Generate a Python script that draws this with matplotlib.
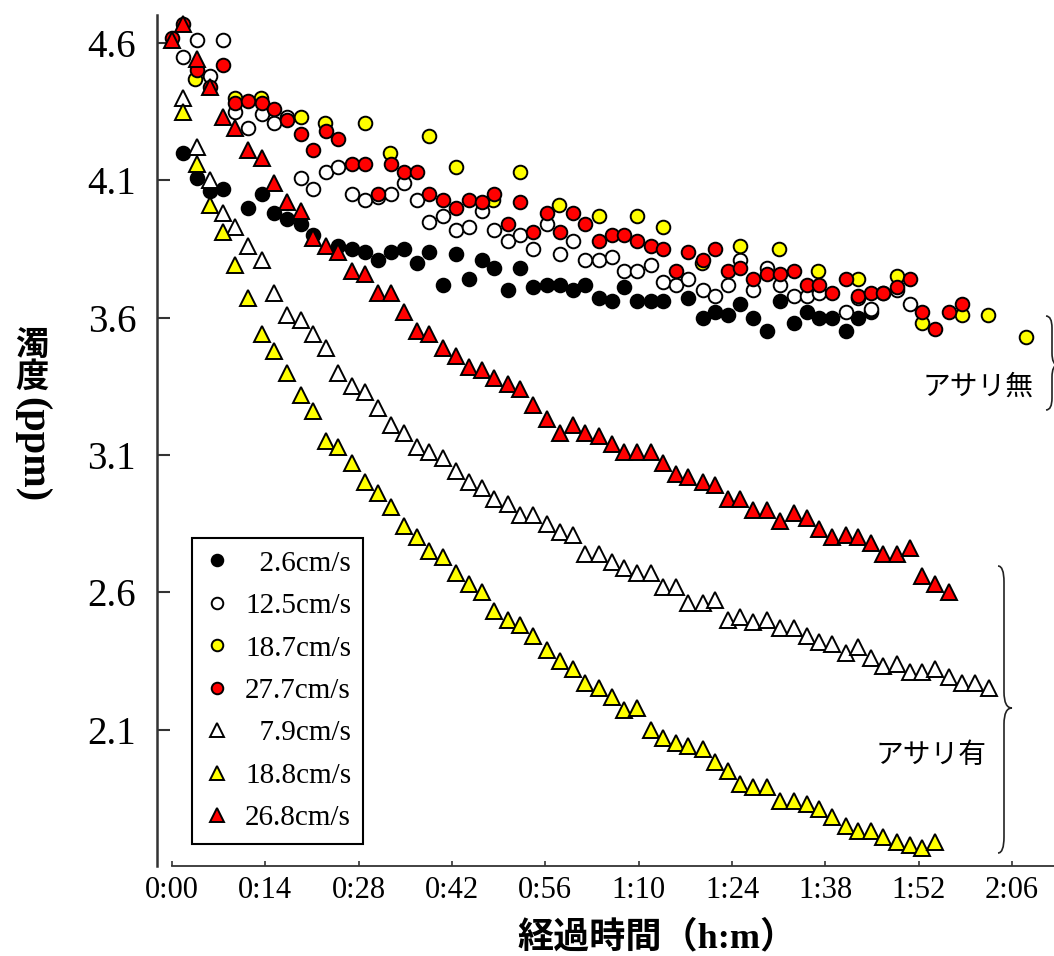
import numpy as np
import matplotlib
matplotlib.use("Agg")
from matplotlib import pyplot as plt
from matplotlib.path import Path
from matplotlib.patches import PathPatch
from matplotlib.transforms import Affine2D

plt.rcParams["font.family"] = ["Liberation Serif", "Noto Sans CJK JP"]

# sampling times (minutes)
t_grid = [0.0, 1.65, 3.75, 5.7, 7.65, 9.45, 11.4, 13.5, 15.3, 17.25,
          19.35, 21.15, 23.1, 24.9, 27.0, 28.95, 30.9, 32.85, 34.8, 36.75,
          38.55, 40.65, 42.6, 44.55, 46.5, 48.3, 50.4, 52.2, 54.15, 56.25,
          58.2, 60.15, 61.95, 64.05, 66.0, 67.8, 69.75, 71.85, 73.65, 75.6,
          77.4, 79.65, 81.45, 83.4, 85.2, 87.15, 89.25, 91.2, 93.3, 95.25,
          97.05, 99.0, 101.1, 102.9, 104.85, 106.65, 108.75, 110.7, 112.5, 114.45,
          116.55, 118.5, 120.45, 122.55]

# without clams (circles), values aligned to t_grid from index 0
black_c = [None, 4.20, 4.11, 4.06, 4.07, None, 4.00, 4.05, 3.98, 3.96,
           3.94, 3.90, None, 3.86, 3.85, 3.84, 3.81, 3.84, 3.85, 3.80,
           3.84, 3.72, 3.83, 3.74, 3.81, 3.78, 3.70, 3.78, 3.71, 3.72,
           3.72, 3.70, 3.72, 3.67, 3.66, 3.71, 3.66, 3.66, 3.66, None,
           3.67, 3.60, 3.62, 3.61, 3.65, 3.60, 3.55, 3.66, 3.58, 3.62,
           3.60, 3.60, 3.55, 3.60, 3.62]
white_c = [None, 4.55, 4.61, 4.48, 4.61, 4.35, 4.29, 4.34, 4.31, 4.33,
           4.11, 4.07, 4.13, 4.15, 4.05, 4.03, 4.04, 4.05, 4.09, 4.03,
           3.95, 3.97, 3.92, 3.93, 3.99, 3.92, 3.88, 3.90, 3.85, 3.94,
           3.83, 3.88, 3.81, 3.81, 3.82, 3.77, 3.77, 3.79, 3.73, 3.72,
           3.74, 3.70, 3.68, 3.72, 3.81, 3.70, 3.78, 3.72, 3.68, 3.68,
           3.69, None, 3.62, 3.67, 3.63, 3.69, 3.70, 3.65]
red_c = [4.62, 4.67, 4.50, 4.44, 4.52, 4.38, 4.39, 4.38, 4.36, 4.32,
         4.27, 4.21, 4.28, 4.25, 4.16, 4.16, 4.05, 4.16, 4.13, 4.13,
         4.05, 4.03, 4.00, 4.03, 4.02, 4.05, 3.94, 4.02, 3.91, 3.98,
         3.91, 3.98, 3.94, 3.88, 3.90, 3.90, 3.88, 3.86, 3.85, 3.77,
         3.84, 3.81, 3.85, 3.77, 3.78, 3.74, 3.76, 3.76, 3.77, 3.72,
         3.72, 3.69, 3.74, 3.68, 3.69, 3.69, 3.71, 3.74, 3.62, 3.56,
         3.62, 3.65]
# yellow circles were sampled less often
yellow_c_t = [3.45, 9.45, 13.35, 19.35, 22.95, 28.95, 32.7, 38.55, 42.6, 48.15,
              52.2, 58.05, 64.05, 69.75, 73.65, 79.5, 85.2, 91.05, 96.9, 102.9,
              108.75, 112.5, 118.5, 122.4, 128.1]
yellow_c = [4.47, 4.40, 4.40, 4.33, 4.31, 4.31, 4.20, 4.26, 4.15, 4.03,
            4.13, 4.01, 3.97, 3.97, 3.93, 3.80, 3.86, 3.85, 3.77, 3.74,
            3.75, 3.58, 3.61, 3.61, 3.53]

# with clams (triangles)
white_t = [4.40, 4.22, 4.10, 3.98, 3.93, 3.86, 3.81, 3.69, 3.61, 3.59,
           3.54, 3.49, 3.40, 3.35, 3.33, 3.27, 3.21, 3.18, 3.13, 3.11,
           3.09, 3.04, 3.00, 2.98, 2.94, 2.92, 2.88, 2.88, 2.85, 2.82,
           2.81, 2.74, 2.74, 2.71, 2.69, 2.67, 2.67, 2.62, 2.62, 2.56,
           2.56, 2.57, 2.50, 2.51, 2.49, 2.50, 2.47, 2.47, 2.44, 2.42,
           2.41, 2.38, 2.40, 2.36, 2.33, 2.34, 2.31, 2.31, 2.32, 2.29,
           2.27, 2.27, 2.25]   # starts at t_grid[1]
yellow_t = [4.35, 4.16, 4.01, 3.91, 3.79, 3.67, 3.54, 3.48, 3.40, 3.32,
            3.26, 3.15, 3.13, 3.07, 3.00, 2.96, 2.91, 2.84, 2.80, 2.75,
            2.73, 2.67, 2.63, 2.60, 2.53, 2.50, 2.48, 2.44, 2.39, 2.35,
            2.32, 2.27, 2.25, 2.22, 2.17, 2.18, 2.10, 2.07, 2.05, 2.04,
            2.03, 1.98, 1.95, 1.90, 1.89, 1.89, 1.84, 1.84, 1.83, 1.81,
            1.78, 1.75, 1.73, 1.73, 1.71, 1.69, 1.68, 1.67, 1.69]   # starts at t_grid[1]
red_t = [4.61, 4.67, 4.54, 4.44, 4.33, 4.29, 4.21, 4.18, 4.09, 4.02,
         3.99, 3.89, 3.86, 3.84, 3.77, 3.76, 3.69, 3.69, 3.62, 3.55,
         3.54, 3.49, 3.46, 3.42, 3.41, 3.38, 3.36, 3.34, 3.28, 3.23,
         3.18, 3.21, 3.18, 3.17, 3.14, 3.11, 3.11, 3.11, 3.07, 3.03,
         3.02, 3.00, 2.99, 2.94, 2.94, 2.90, 2.90, 2.86, 2.89, 2.87,
         2.83, 2.80, 2.81, 2.80, 2.78, 2.74, 2.74, 2.76, 2.66, 2.63,
         2.60]

labels = ["  2.6cm/s", "12.5cm/s", "18.7cm/s", "27.7cm/s",
          "  7.9cm/s", "18.8cm/s", "26.8cm/s"]
xticks = [0, 14, 28, 42, 56, 70, 84, 98, 112, 126]
xtick_labels = ["0:00", "0:14", "0:28", "0:42", "0:56", "1:10", "1:24", "1:38", "1:52", "2:06"]
yticks = [2.1, 2.6, 3.1, 3.6, 4.1, 4.6]


def on_grid(vals, start=0):
    return t_grid[start:start + len(vals)], np.array(vals, dtype=float)


W, H = 1054, 956
fig = plt.figure(figsize=(W / 100, H / 100), dpi=100)
ax = fig.add_axes([157 / W, 90 / H, 897 / W, 851 / H])

circ = dict(linestyle="none", marker="o", markersize=9.8,
            markeredgecolor="black", markeredgewidth=1.4)
tri = dict(linestyle="none", marker="^", markersize=11.8,
           markeredgecolor="black", markeredgewidth=1.4)

ax.plot(*on_grid(black_c), markerfacecolor="black", label=labels[0], **circ)
ax.plot(*on_grid(white_c), markerfacecolor="white", label=labels[1], **circ)
ax.plot(yellow_c_t, yellow_c, markerfacecolor="#ffff00", label=labels[2], **circ)
ax.plot(*on_grid(red_c), markerfacecolor="#ff0000", label=labels[3], **circ)
ax.plot(*on_grid(white_t, 1), markerfacecolor="white", label=labels[4], **tri)
ax.plot(*on_grid(yellow_t, 1), markerfacecolor="#ffff00", label=labels[5], **tri)
ax.plot(*on_grid(red_t), markerfacecolor="#ff0000", label=labels[6], **tri)

xmax = 132.3
ax.set_xlim(-2.25, xmax)
ax.set_ylim(1.603, 4.702)
ax.set_xticks(xticks)
ax.set_xticklabels(xtick_labels)
ax.set_yticks(yticks)
ax.set_yticklabels([f"{v:.1f}" for v in yticks])

for s in ["top", "right"]:
    ax.spines[s].set_visible(False)
ax.spines["left"].set_linewidth(1.8)
ax.spines["left"].set_color("#333333")
ax.spines["bottom"].set_linewidth(1.3)
ax.spines["bottom"].set_color("#333333")
ax.spines["bottom"].set_bounds(0, xmax)

ax.tick_params(axis="y", direction="in", length=9, width=1.5, pad=15,
               labelsize=28, color="#333333")
ax.tick_params(axis="x", direction="in", length=3.5, width=1.2, pad=7,
               labelsize=22, color="#333333")

leg = ax.legend(loc="upper left", bbox_to_anchor=(35 / 897, (866 - 538) / 851),
                borderaxespad=0, frameon=True, fancybox=False, framealpha=1,
                edgecolor="black", fontsize=21, markerscale=0.85,
                handlelength=0.9, handletextpad=0.5, labelspacing=0.55,
                borderpad=0.42)
leg.get_frame().set_linewidth(1.5)

# pixel-based helpers for annotations
px = Affine2D().scale(1 / W, 1 / H) + fig.transFigure


def fig_text(x, y, s, **kw):
    fig.text(x / W, 1 - y / H, s, ha="center", va="center", **kw)


def brace(x_end, x_line, x_tip, y_top, y_mid, y_bot, h):
    pts = [(x_end, y_top), (x_line, y_top), (x_line, y_top + h),
           (x_line, y_mid - h), (x_line, y_mid), (x_tip, y_mid),
           (x_line, y_mid), (x_line, y_mid + h),
           (x_line, y_bot - h), (x_line, y_bot), (x_end, y_bot)]
    codes = [Path.MOVETO, Path.CURVE3, Path.CURVE3,
             Path.LINETO, Path.CURVE3, Path.CURVE3,
             Path.CURVE3, Path.CURVE3,
             Path.LINETO, Path.CURVE3, Path.CURVE3]
    verts = [(x, H - y) for x, y in pts]
    fig.add_artist(PathPatch(Path(verts, codes), transform=px, fill=False,
                             lw=1.2, edgecolor="#222222", clip_on=False))


fig_text(978, 387, "アサリ無", fontsize=20, family="Noto Sans CJK JP")
fig_text(931, 755, "アサリ有", fontsize=20, family="Noto Sans CJK JP")
brace(1046, 1052, 1058, 316, 365, 410, 12)
brace(998, 1004, 1012, 566, 708, 853, 16)

# y label: kanji upright, (ppm) turned
fig_text(32, 346, "濁", fontsize=24, fontweight="bold", family="Noto Sans CJK JP")
fig_text(32, 377, "度", fontsize=24, fontweight="bold", family="Noto Sans CJK JP")
fig_text(32, 450, "(ppm)", fontsize=29, fontweight="bold", rotation=270,
         family="Liberation Serif")

fig_text(657, 938, "経過時間（h:m）", fontsize=26, fontweight="bold")

fig.savefig("out.png", dpi=100)
